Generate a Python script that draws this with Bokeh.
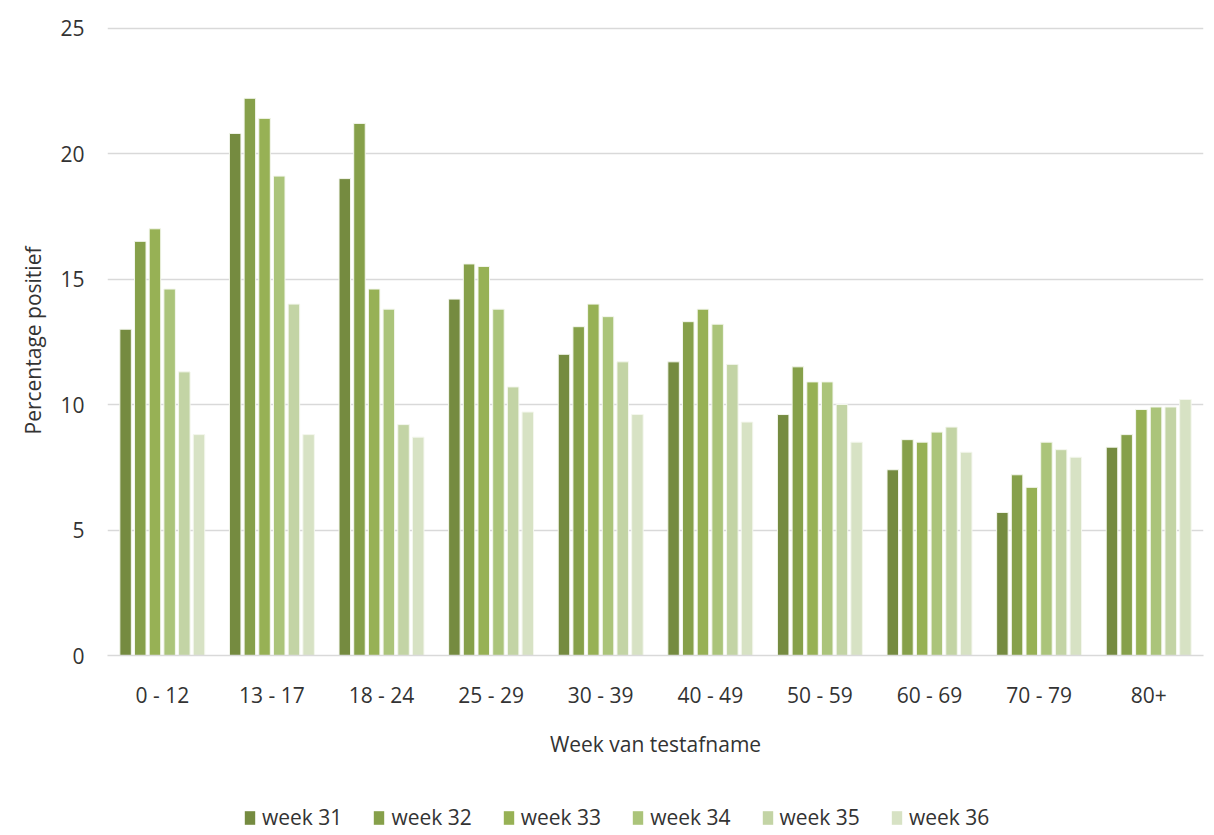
from bokeh.plotting import figure
from bokeh.layouts import column
from bokeh.models import FactorRange, Range1d, Legend, LegendItem, ColumnDataSource, SingleIntervalTicker
from bokeh.transform import dodge
from bokeh.embed import file_html
from bokeh.resources import INLINE

categories = ["0 - 12", "13 - 17", "18 - 24", "25 - 29", "30 - 39", "40 - 49", "50 - 59", "60 - 69", "70 - 79", "80+"]
weeks = ["week 31", "week 32", "week 33", "week 34", "week 35", "week 36"]
week31 = [13.0, 20.8, 19.0, 14.2, 12.0, 11.7, 9.6, 7.4, 5.7, 8.3]
week32 = [16.5, 22.2, 21.2, 15.6, 13.1, 13.3, 11.5, 8.6, 7.2, 8.8]
week33 = [17.0, 21.4, 14.6, 15.5, 14.0, 13.8, 10.9, 8.5, 6.7, 9.8]
week34 = [14.6, 19.1, 13.8, 13.8, 13.5, 13.2, 10.9, 8.9, 8.5, 9.9]
week35 = [11.3, 14.0, 9.2, 10.7, 11.7, 11.6, 10.0, 9.1, 8.2, 9.9]
week36 = [8.8, 8.8, 8.7, 9.7, 9.6, 9.3, 8.5, 8.1, 7.9, 10.2]
series = [week31, week32, week33, week34, week35, week36]
colors = ["#758B40", "#86A04A", "#97B155", "#ABC47A", "#C3D4A5", "#D7E2C4"]

FONT = "Open Sans"
TXT = "#333333"

src = ColumnDataSource(dict(cat=categories, **{w.replace(" ", ""): s for w, s in zip(weeks, series)}))

p1 = figure(width=1206, height=790, output_backend="svg", toolbar_location=None,
            x_range=FactorRange(*categories, range_padding=0), y_range=Range1d(0, 25.1),
            min_border_left=107, min_border_right=3, min_border_top=25, min_border_bottom=135)
p1.outline_line_color = None

pitch = 0.134
bw = 0.105
for i, (w, c) in enumerate(zip(weeks, colors)):
    p1.vbar(x=dodge("cat", (i - 2.5) * pitch, range=p1.x_range), top=w.replace(" ", ""), width=bw,
            source=src, fill_color=c, line_color="#f4f7ee", line_width=1)

p1.xgrid.grid_line_color = None
p1.ygrid.grid_line_color = "#D9D9D9"
p1.ygrid.grid_line_width = 1.5
p1.yaxis.ticker = SingleIntervalTicker(interval=5)

p1.yaxis.axis_line_color = None
p1.yaxis.major_tick_line_color = None
p1.yaxis.minor_tick_line_color = None
p1.yaxis.major_label_standoff = 17
p1.yaxis.major_label_text_font = FONT
p1.yaxis.major_label_text_font_size = "21px"
p1.yaxis.major_label_text_color = TXT
p1.yaxis.axis_label = "Percentage positief"
p1.yaxis.axis_label_standoff = 10
p1.yaxis.axis_label_text_font = FONT
p1.yaxis.axis_label_text_font_size = "21px"
p1.yaxis.axis_label_text_font_style = "normal"
p1.yaxis.axis_label_text_color = TXT

p1.xaxis.axis_line_color = "#D9D9D9"
p1.xaxis.axis_line_width = 1.5
p1.xaxis.major_tick_line_color = None
p1.xaxis.minor_tick_line_color = None
p1.xaxis.major_label_standoff = 19
p1.xaxis.major_label_text_font = FONT
p1.xaxis.major_label_text_font_size = "21px"
p1.xaxis.major_label_text_color = TXT
p1.xaxis.axis_label = "Week van testafname"
p1.xaxis.axis_label_standoff = 18
p1.xaxis.axis_label_text_font = FONT
p1.xaxis.axis_label_text_font_size = "21px"
p1.xaxis.axis_label_text_font_style = "normal"
p1.xaxis.axis_label_text_color = TXT

# legend strip (hidden zero-size proxies carry the legend swatches)
p2 = figure(width=1206, height=41, output_backend="svg", toolbar_location=None,
            x_range=Range1d(0, 1), y_range=Range1d(0, 1), x_axis_type=None, y_axis_type=None,
            min_border=0)
p2.outline_line_color = None
p2.grid.visible = False
leg_renderers = []
for w, c in zip(weeks, colors):
    leg_renderers.append(p2.quad(left=[0.5], right=[0.5], top=[0], bottom=[0], fill_color=c, line_color=None))

legend = Legend(items=[LegendItem(label=w, renderers=[r]) for w, r in zip(weeks, leg_renderers)],
                orientation="horizontal", location=(136, 0), border_line_color=None,
                background_fill_alpha=0,
                glyph_width=13, glyph_height=17, label_standoff=6, spacing=30, padding=0,
                margin=0, label_text_font=FONT, label_text_font_size="21px", label_text_color=TXT)
p2.add_layout(legend, "center")

p = column(p1, p2, spacing=0)

open("out.html", "w").write(file_html(p, INLINE))
